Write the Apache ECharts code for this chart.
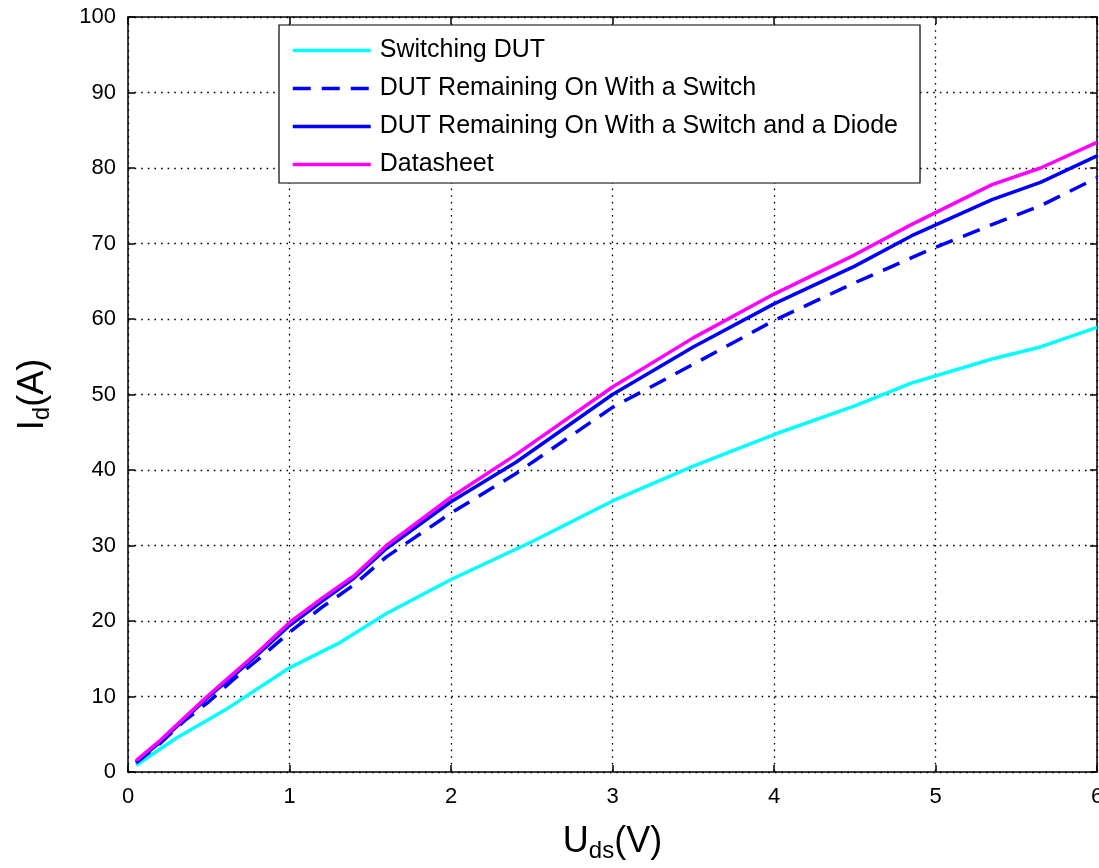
<!DOCTYPE html>
<html><head><meta charset="utf-8">
<script src="https://cdn.jsdelivr.net/npm/echarts@6/dist/echarts.min.js"></script>
<style>html,body{margin:0;padding:0;background:#fff}#c{width:1099px;height:868px}</style>
</head><body><div id="c"></div>
<script>
const seriesNames = ['Switching DUT','DUT Remaining On With a Switch','DUT Remaining On With a Switch and a Diode','Datasheet'];
const xSwitching = [0.05,0.3,0.6,1.0,1.3,1.6,2.0,2.5,3.0,3.5,4.0,4.5,4.85,5.35,5.65,6.0];
const ySwitching = [0.9,4.5,8.2,13.8,17,21,25.5,30.5,35.9,40.5,44.7,48.5,51.5,54.7,56.3,58.9];
const xSwitch = [0.05,0.2,0.35,0.5,0.65,0.8,1.0,1.2,1.4,1.6,2.0,2.4,3.0,3.5,4.0,4.5,5.0,5.35,5.65,6.0];
const ySwitch = [1.2,3.8,6.8,9.3,12.2,14.8,18.5,21.8,24.8,28.5,34.3,39.5,48.3,54,59.8,64.8,69.5,72.5,75,78.7];
const xDiode = [0.05,0.2,0.35,0.5,0.65,0.8,1.0,1.2,1.4,1.6,2.0,2.4,3.0,3.5,4.0,4.5,4.85,5.35,5.65,6.0];
const yDiode = [1.3,4,7,10,12.7,15.5,19.4,22.6,25.7,29.6,35.8,41,50,56.3,62,67,71,75.8,78.1,81.6];
const xSheet = [0.05,0.2,0.35,0.5,0.65,0.8,1.0,1.2,1.4,1.6,2.0,2.4,3.0,3.5,4.0,4.5,4.85,5.35,5.65,6.0];
const ySheet = [1.5,4.2,7.2,10.2,13,15.8,19.8,23,26,30,36.4,42,51,57.5,63.3,68.5,72.5,77.8,80,83.4];

const pair = (xs, ys) => xs.map((x, i) => [x, ys[i]]);
const FONT = '"Liberation Sans", Arial, sans-serif';
const chart = echarts.init(document.getElementById('c'));
const gridLine = {show: true, lineStyle: {color: '#000', type: [1.6, 5], width: 1.3}};
const titleRich = {
  b: {fontSize: 36, fontFamily: FONT, color: '#000'},
  s: {fontSize: 24, fontFamily: FONT, color: '#000', verticalAlign: 'bottom', padding: [18, 0, 0, 0]}
};
const LW = 3.5;
chart.setOption({
  animation: false,
  backgroundColor: '#fff',
  textStyle: {fontFamily: FONT, color: '#000'},
  grid: {left: 128, top: 17, right: 2, bottom: 96, containLabel: false, outerBoundsMode: 'none'},
  legend: {
    orient: 'vertical', left: 279, top: 25,
    backgroundColor: '#fff', borderColor: '#000', borderWidth: 1.2,
    padding: [13, 22, 6, 12], itemWidth: 78, itemHeight: 14, itemGap: 13,
    itemStyle: {opacity: 0},
    lineStyle: {width: LW},
    textStyle: {fontSize: 25, fontFamily: FONT, color: '#000', padding: [0, 0, 0, 4]},
    data: seriesNames
  },
  xAxis: [{
    type: 'value', min: 0, max: 6, interval: 1,
    axisLine: {show: true, lineStyle: {color: '#000', width: 1.5}},
    axisTick: {show: true, inside: true, length: 7, lineStyle: {color: '#000', width: 1.5}},
    axisLabel: {fontSize: 22, color: '#000', fontFamily: FONT, margin: 14},
    splitLine: gridLine,
    name: '{b|U}{s|ds}{b|(V)}', nameLocation: 'middle', nameGap: 49,
    nameTextStyle: {rich: titleRich}
  }, {
    type: 'value', min: 0, max: 6, interval: 1, position: 'top',
    axisLine: {show: true, onZero: false, lineStyle: {color: '#000', width: 1.5}},
    axisTick: {show: true, inside: true, length: 7, lineStyle: {color: '#000', width: 1.5}},
    axisLabel: {show: false}, splitLine: {show: false}
  }],
  yAxis: [{
    type: 'value', min: 0, max: 100, interval: 10,
    axisLine: {show: true, lineStyle: {color: '#000', width: 1.5}},
    axisTick: {show: true, inside: true, length: 7, lineStyle: {color: '#000', width: 1.5}},
    axisLabel: {fontSize: 22, color: '#000', fontFamily: FONT, margin: 12},
    splitLine: gridLine,
    name: '{b|I}{s|d}{b|(A)}', nameLocation: 'middle', nameGap: 74, nameRotate: 90,
    nameTextStyle: {rich: titleRich}
  }, {
    type: 'value', min: 0, max: 100, interval: 10, position: 'right',
    axisLine: {show: true, onZero: false, lineStyle: {color: '#000', width: 1.5}},
    axisTick: {show: true, inside: true, length: 7, lineStyle: {color: '#000', width: 1.5}},
    axisLabel: {show: false}, splitLine: {show: false}
  }],
  series: [
    {name: seriesNames[0], type: 'line', symbol: 'none', data: pair(xSwitching, ySwitching),
     lineStyle: {color: '#00FFFF', width: LW}, itemStyle: {color: '#00FFFF'}},
    {name: seriesNames[1], type: 'line', symbol: 'none', data: pair(xSwitch, ySwitch),
     lineStyle: {color: '#0000FF', width: LW, type: [18, 11]}, itemStyle: {color: '#0000FF'}},
    {name: seriesNames[2], type: 'line', symbol: 'none', data: pair(xDiode, yDiode),
     lineStyle: {color: '#0000FF', width: LW}, itemStyle: {color: '#0000FF'}},
    {name: seriesNames[3], type: 'line', symbol: 'none', data: pair(xSheet, ySheet),
     lineStyle: {color: '#FF00FF', width: LW}, itemStyle: {color: '#FF00FF'}}
  ]
});
</script></body></html>
